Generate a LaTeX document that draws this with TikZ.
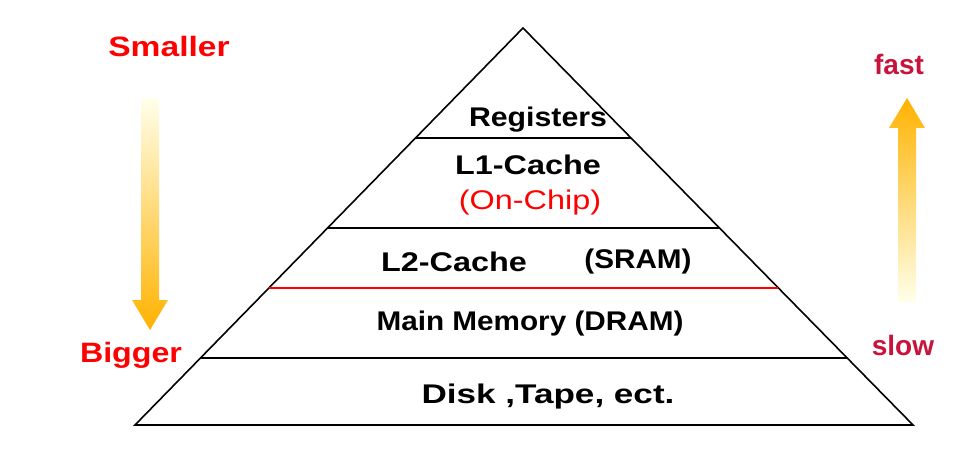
\documentclass[tikz,border=0pt]{standalone}
\usepackage{fontspec}
\setmainfont{Liberation Sans}
\usetikzlibrary{calc}
\begin{document}
\begin{tikzpicture}[x=1pt,y=-1pt,
  lvl/.style={font=\bfseries\fontsize{27}{30}\selectfont,inner sep=0pt},
  side/.style={font=\bfseries\fontsize{28}{32}\selectfont,inner sep=0pt},
  ln/.style={line width=1.6pt}]
\useasboundingbox (0,0) rectangle (974,470);
% pyramid
\coordinate (A) at (523,28);
\coordinate (BL) at (135,425);
\coordinate (BR) at (913,425);
\draw[ln,line join=miter] (BL) -- (A) -- (BR) -- cycle;
\coordinate (r1) at ($(A)!0.2771!(BL)$); \coordinate (r2) at ($(A)!0.2771!(BR)$);
\coordinate (c1) at ($(A)!0.5038!(BL)$); \coordinate (c2) at ($(A)!0.5038!(BR)$);
\coordinate (m1) at ($(A)!0.6549!(BL)$); \coordinate (m2) at ($(A)!0.6549!(BR)$);
\coordinate (d1) at ($(A)!0.8312!(BL)$); \coordinate (d2) at ($(A)!0.8312!(BR)$);
\draw[ln] (r1) -- (r2);
\draw[ln] (c1) -- (c2);
\draw[red,line width=1.2pt] (m1) -- (m2);
\draw[ln] (d1) -- (d2);
% texts
\node[lvl,xscale=1.12] (reg) at (538,120) {Registers};
\node[lvl,xscale=1.2] (l1) at (528,165) {L1-Cache};
\node[lvl,xscale=1.2,text=red,font=\fontsize{27}{30}\selectfont] (onchip) at (530,203) {(On-Chip)};
\node[lvl,xscale=1.2] (l2) at (454,262) {L2-Cache};
\node[lvl,xscale=1.1] (sram) at (638,262) {(SRAM)};
\node[lvl,xscale=1.1] (mm) at (530,324) {Main Memory (DRAM)};
\node[lvl,xscale=1.3] (disk) at (548,397) {Disk ,Tape, ect.};
\node[side,xscale=1.2,text=red] (small) at (169,46) {Smaller};
\node[side,xscale=1.15,text=red] (big) at (131,355) {Bigger};
\node[side,text={rgb,255:red,200;green,20;blue,60}] (fast) at (899,64) {fast};
\node[side,text={rgb,255:red,200;green,20;blue,60}] (slow) at (903,345) {slow};
% gradient arrows
\shade[top color=yellow!8,bottom color=orange!60!yellow] (141,98) -- (159,98) -- (159,300) -- (168,300) -- (150,330) -- (132,300) -- (141,300) -- cycle;
\shade[bottom color=yellow!8,top color=orange!60!yellow] (898,302) -- (916,302) -- (916,128) -- (925,128) -- (907,98) -- (889,128) -- (898,128) -- cycle;
\end{tikzpicture}
\end{document}
